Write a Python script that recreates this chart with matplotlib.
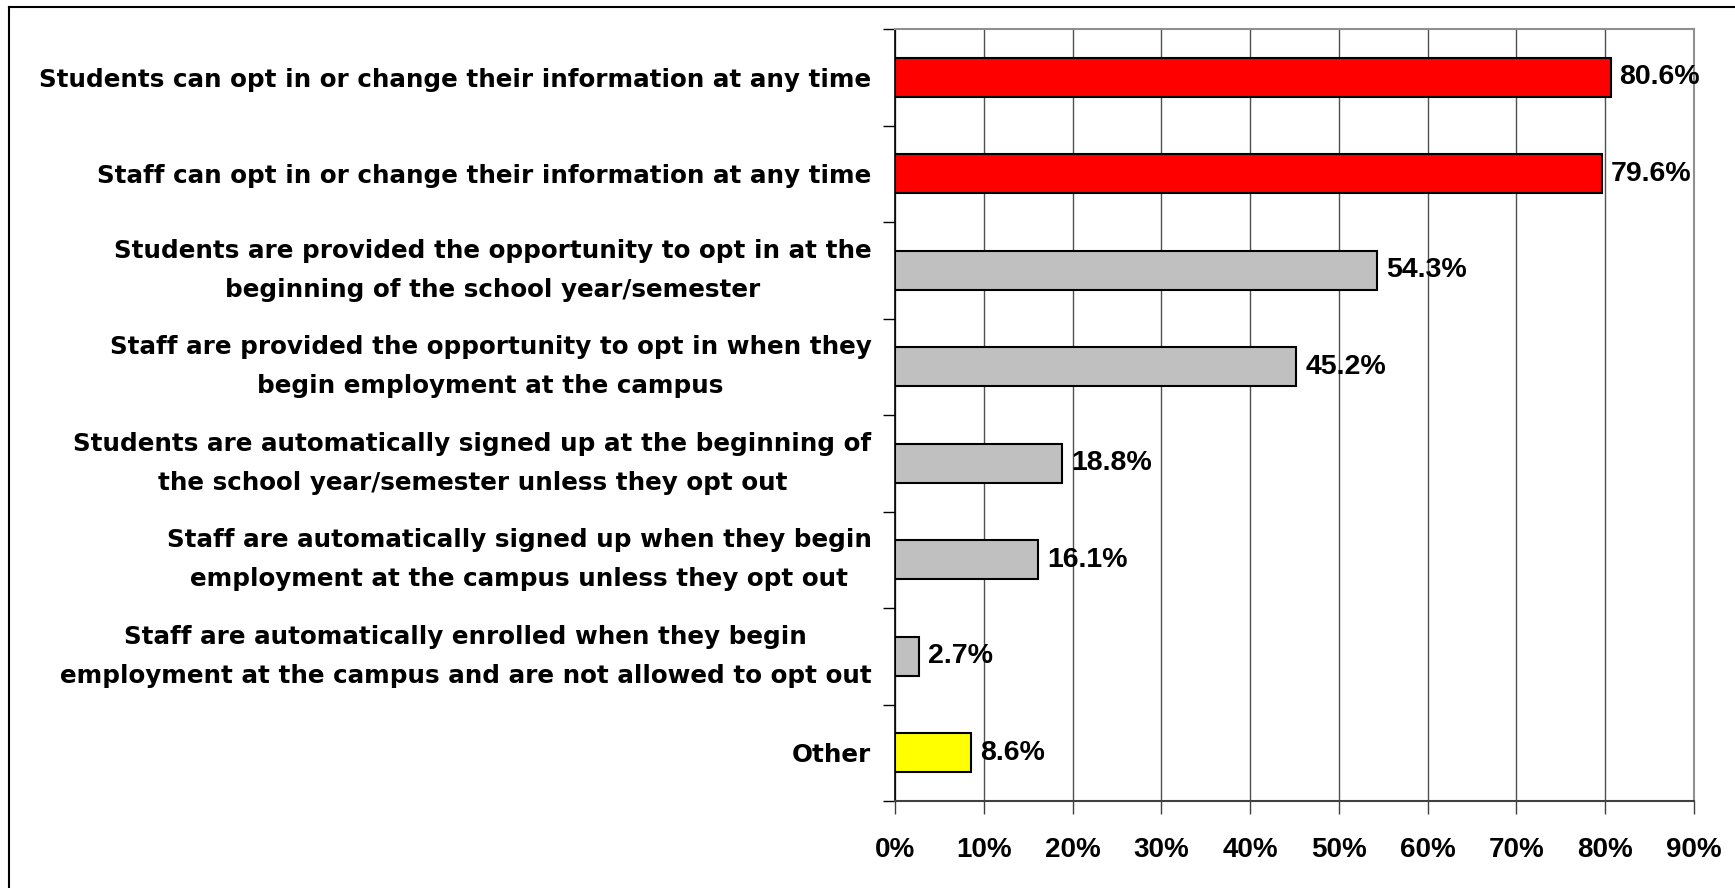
import numpy as np
import matplotlib.pyplot as plt
from matplotlib.lines import Line2D

plt.rcParams['font.family'] = ['Liberation Sans', 'DejaVu Sans']
plt.rcParams['font.weight'] = 'bold'

categories = [
    "Students can opt in or change their information at any time",
    "Staff can opt in or change their information at any time",
    "Students are provided the opportunity to opt in at the\nbeginning of the school year/semester",
    "Staff are provided the opportunity to opt in when they\nbegin employment at the campus",
    "Students are automatically signed up at the beginning of\nthe school year/semester unless they opt out",
    "Staff are automatically signed up when they begin\nemployment at the campus unless they opt out",
    "Staff are automatically enrolled when they begin\nemployment at the campus and are not allowed to opt out",
    "Other",
]
values = [80.6, 79.6, 54.3, 45.2, 18.8, 16.1, 2.7, 8.6]
colors = ['#FF0000', '#FF0000', '#C0C0C0', '#C0C0C0', '#C0C0C0', '#C0C0C0', '#C0C0C0', '#FFFF00']
xticks = np.arange(0, 91, 10)

fig = plt.figure(figsize=(17.35, 8.88), dpi=100)
ax = fig.add_axes([895 / 1735, 1 - 801 / 888, 799 / 1735, 772 / 888])

y = np.arange(len(categories))
ax.barh(y, values, height=0.4, color=colors, edgecolor='black', linewidth=1.5, zorder=3)

for yi, v in zip(y, values):
    ax.text(v + 1.0, yi, f"{v:.1f}%", va='center', ha='left', fontsize=20.5, fontweight='bold', zorder=4)

ax.set_xlim(0, 90)
ax.set_ylim(len(categories) - 0.5, -0.5)
ax.set_xticks(xticks)
ax.set_xticklabels([f"{t}%" for t in xticks], fontsize=20, fontweight='bold')
ax.set_yticks(y)
ax.set_yticklabels(categories, fontsize=17.7, fontweight='bold', family='DejaVu Sans',
                   multialignment='center', linespacing=1.8)
# two-line labels centred as a block, one-line ones on their baseline centre
for lab in ax.get_yticklabels():
    if '\n' in lab.get_text():
        lab.set_va('center')
ax.set_yticks(np.arange(-0.5, len(categories)), minor=True)

ax.tick_params(axis='y', which='major', length=0, pad=17)
ax.tick_params(axis='y', which='minor', length=9, width=1, color='black')
ax.tick_params(axis='x', length=9, width=1, color='#404040', pad=17)

ax.xaxis.grid(True, color='#505050', linewidth=1, zorder=0)
ax.set_axisbelow(True)
for s in ['top', 'right']:
    ax.spines[s].set_color('#909090')
    ax.spines[s].set_linewidth(1.5)
ax.spines['left'].set_color('black')
ax.spines['left'].set_linewidth(1.2)
ax.spines['bottom'].set_color('#404040')
ax.spines['bottom'].set_linewidth(1.5)

# outer frame of the chart area
fig.add_artist(Line2D([9 / 1735, 9 / 1735], [0, 1 - 7 / 888], transform=fig.transFigure, color='black', linewidth=1.5))
fig.add_artist(Line2D([9 / 1735, 1], [1 - 7 / 888, 1 - 7 / 888], transform=fig.transFigure, color='black', linewidth=1.5))

fig.savefig('out.png', dpi=100)
